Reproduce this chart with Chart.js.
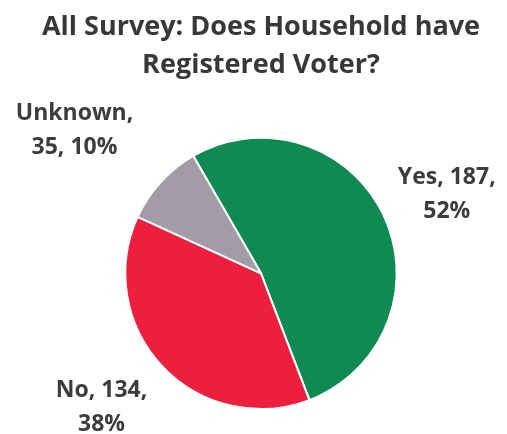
<!DOCTYPE html>
<html>
<head>
<meta charset="utf-8">
<script src="https://cdn.jsdelivr.net/npm/chart.js@4"></script>
<style>
html,body{margin:0;padding:0;background:#fff;}
#wrap{width:507px;height:434px;}
</style>
</head>
<body>
<div id="wrap"><canvas id="c" width="507" height="434"></canvas></div>
<script>
const categories = ["Yes", "No", "Unknown"];
const counts = [187, 134, 35];
const percentLabels = ["52%", "38%", "10%"];
const sliceColors = ["#0E8A52", "#EE1E3E", "#A29CA6"];
const titleLines = ["All Survey: Does Household have", "Registered Voter?"];

const labelPlugin = {
  id: 'outsideLabels',
  afterDatasetsDraw(chart, args, opts) {
    const ctx = chart.ctx;
    const meta = chart.getDatasetMeta(0);
    ctx.save();
    ctx.font = opts.font;
    ctx.fillStyle = opts.color;
    ctx.textAlign = 'center';
    ctx.textBaseline = 'middle';
    meta.data.forEach((arc, i) => {
      const p = arc.getProps(['x','y','startAngle','endAngle','outerRadius'], true);
      const mid = (p.startAngle + p.endAngle) / 2;
      const r = p.outerRadius * opts.factor;
      const off = opts.offsets[i];
      const cx = p.x + Math.cos(mid) * r + off[0];
      const cy = p.y + Math.sin(mid) * r + off[1];
      const lines = opts.lines[i];
      const lh = opts.lineHeight;
      const y0 = cy - (lines.length - 1) * lh / 2;
      lines.forEach((t, k) => ctx.fillText(t, cx, y0 + k * lh));
    });
    ctx.restore();
  }
};

const labelLines = [
  [categories[0] + ", " + counts[0] + ",", percentLabels[0]],
  [categories[1] + ", " + counts[1] + ",", percentLabels[1]],
  [categories[2] + ",", counts[2] + ", " + percentLabels[2]]
];

new Chart(document.getElementById('c'), {
  type: 'pie',
  data: {
    labels: categories,
    datasets: [{
      data: counts,
      backgroundColor: sliceColors,
      borderColor: '#ffffff',
      borderWidth: 2
    }]
  },
  options: {
    responsive: false,
    animation: false,
    rotation: -30,
    layout: { padding: { left: 15, right: 0, bottom: 24, top: 0 } },
    plugins: {
      legend: { display: false },
      tooltip: { enabled: false },
      title: {
        display: true,
        text: titleLines,
        color: '#383838',
        font: { family: 'Open Sans', size: 27, weight: 'bold', lineHeight: 1.42 },
        padding: { top: 8, bottom: 52 }
      },
      outsideLabels: {
        font: 'bold 23px "Open Sans"',
        color: '#3c3c3c',
        lineHeight: 34,
        factor: 1.5,
        lines: labelLines,
        offsets: [[2, 9], [-11, -5], [-36, -6]]
      }
    }
  },
  plugins: [labelPlugin]
});
</script>
</body>
</html>
